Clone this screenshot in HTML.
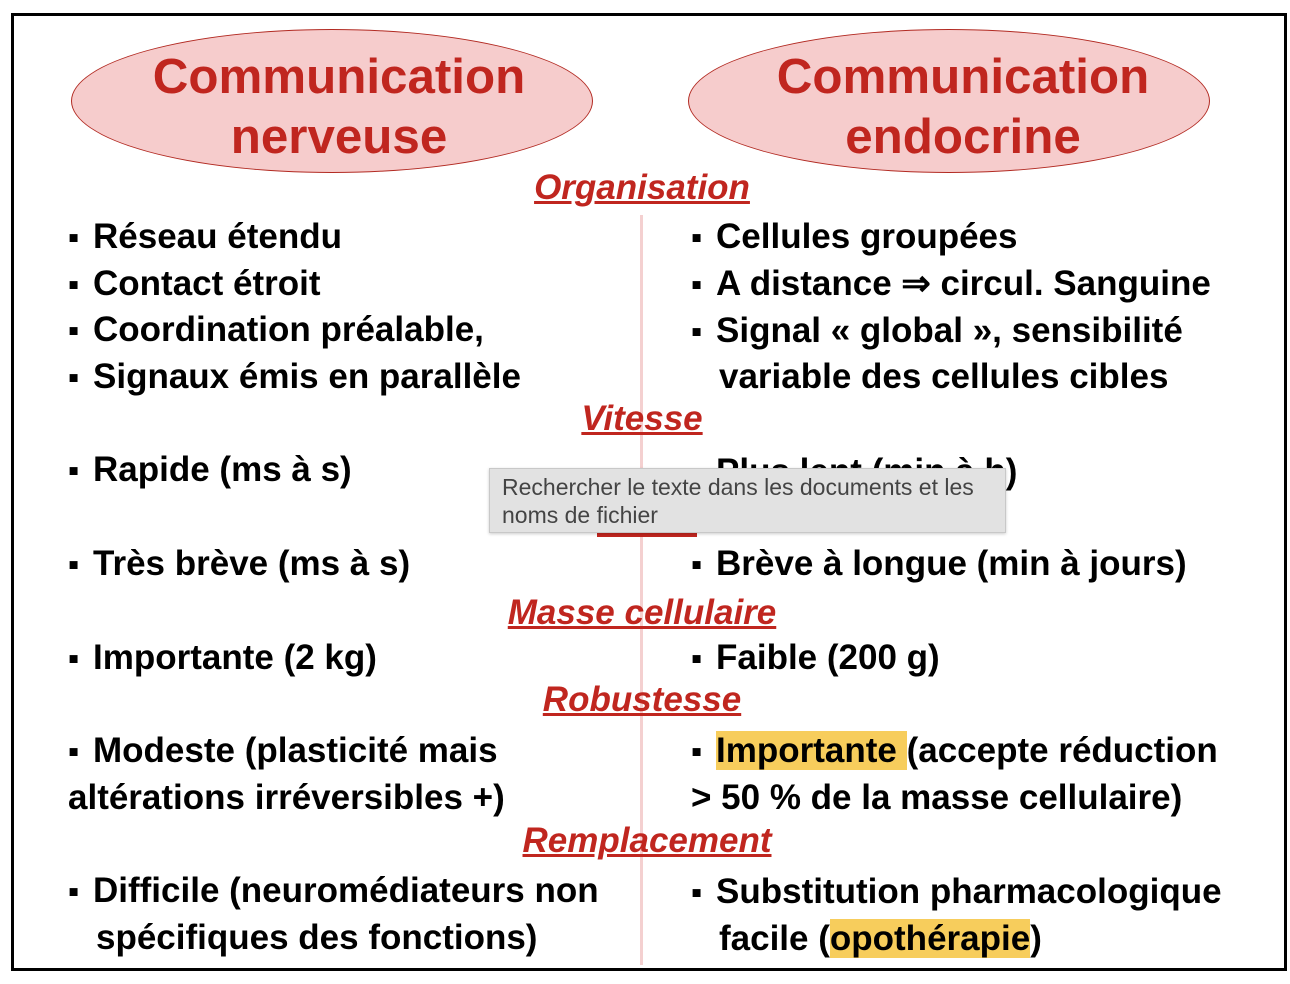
<!DOCTYPE html>
<html><head><meta charset="utf-8"><style>
body{margin:0;width:1290px;height:984px;background:#fff;position:relative;overflow:hidden;font-family:"Liberation Sans",Arial,sans-serif}
.frame{position:absolute;left:11px;top:13px;width:1270px;height:952px;border:3px solid #000;background:#fff}
.ell{position:absolute;width:522px;height:144px;border:1.5px solid #b22a22;border-radius:50%;background:#f6cccc;box-sizing:border-box}
.et{position:absolute;width:522px;color:#c0261f;font-weight:bold;font-size:49.3px;text-align:center;line-height:60px;white-space:nowrap}
.t{position:absolute;font-weight:bold;font-size:35px;color:#000;white-space:nowrap;line-height:40px}
.b{display:inline-block;width:25px;font-size:32px;vertical-align:top}
.h{position:absolute;font-weight:bold;font-style:italic;font-size:35px;color:#c0261f;text-decoration:underline;white-space:nowrap;line-height:40px;transform:translateX(-50%)}
.div{position:absolute;left:640px;top:215px;width:3px;height:750px;background:#f4d0d0}
.hl{background:#f7cd5c}
.tip{position:absolute;left:489px;top:468px;width:517px;height:65px;background:#e2e2e2;border:1px solid #c8c8c8;box-sizing:border-box;font-size:23px;color:#444;line-height:28px;padding:4px 12px;box-shadow:0 1px 3px rgba(0,0,0,.2)}
</style></head><body>
<div class="frame"></div>
<div class="div"></div>
<div class="ell" style="left:71px;top:29px"></div>
<div class="ell" style="left:688px;top:29px"></div>
<div class="et" style="left:78px;top:47px">Communication<br>nerveuse</div>
<div class="et" style="left:702px;top:47px">Communication<br>endocrine</div>

<div class="h" style="left:642px;top:168px">Organisation</div>
<div class="t" style="left:68px;top:217px"><span class="b">▪</span>Réseau étendu</div>
<div class="t" style="left:68px;top:264px"><span class="b">▪</span>Contact étroit</div>
<div class="t" style="left:68px;top:310px"><span class="b">▪</span>Coordination préalable,</div>
<div class="t" style="left:68px;top:357px"><span class="b">▪</span>Signaux émis en parallèle</div>
<div class="t" style="left:691px;top:217px"><span class="b">▪</span>Cellules groupées</div>
<div class="t" style="left:691px;top:264px"><span class="b">▪</span>A distance ⇒ circul. Sanguine</div>
<div class="t" style="left:691px;top:311px"><span class="b">▪</span>Signal « global », sensibilité</div>
<div class="t" style="left:719px;top:357px">variable des cellules cibles</div>

<div class="h" style="left:642px;top:399px">Vitesse</div>
<div class="t" style="left:68px;top:450px"><span class="b">▪</span>Rapide (ms à s)</div>
<div class="t" style="left:691px;top:452px"><span class="b">▪</span>Plus lent (min à h)</div>
<div style="position:absolute;left:597px;top:533px;width:100px;height:4px;background:#c0261f"></div>
<div class="tip">Rechercher le texte dans les documents et les noms de fichier</div>

<div class="t" style="left:68px;top:544px"><span class="b">▪</span>Très brève (ms à s)</div>
<div class="t" style="left:691px;top:544px"><span class="b">▪</span>Brève à longue (min à jours)</div>

<div class="h" style="left:642px;top:593px">Masse cellulaire</div>
<div class="t" style="left:68px;top:638px"><span class="b">▪</span>Importante (2 kg)</div>
<div class="t" style="left:691px;top:638px"><span class="b">▪</span>Faible (200 g)</div>

<div class="h" style="left:642px;top:680px">Robustesse</div>
<div class="t" style="left:68px;top:731px"><span class="b">▪</span>Modeste (plasticité mais</div>
<div class="t" style="left:68px;top:778px">altérations irréversibles +)</div>
<div class="t" style="left:691px;top:731px"><span class="b">▪</span><span class="hl">Importante </span>(accepte réduction</div>
<div class="t" style="left:691px;top:778px">&gt; 50 % de la masse cellulaire)</div>

<div class="h" style="left:647px;top:821px">Remplacement</div>
<div class="t" style="left:68px;top:871px"><span class="b">▪</span>Difficile (neuromédiateurs non</div>
<div class="t" style="left:96px;top:918px">spécifiques des fonctions)</div>
<div class="t" style="left:691px;top:872px"><span class="b">▪</span>Substitution pharmacologique</div>
<div class="t" style="left:719px;top:919px">facile (<span class="hl">opothérapie</span>)</div>
</body></html>
